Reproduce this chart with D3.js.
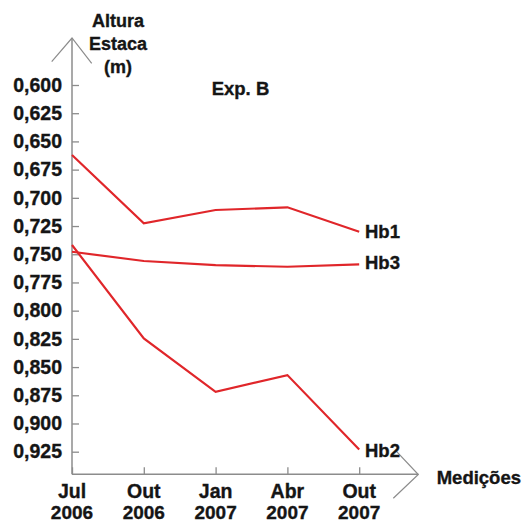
<!DOCTYPE html>
<html>
<head>
<meta charset="utf-8">
<script src="https://cdn.jsdelivr.net/npm/d3@7"></script>
<style>
  html, body { margin: 0; padding: 0; background: #fff; }
  svg { display: block; }
  text { font-family: "Liberation Sans", Arial, Helvetica, sans-serif; font-weight: bold; fill: #151515; stroke: #151515; stroke-width: 0.35px; }
</style>
</head>
<body>
<svg id="chart" width="523" height="523"></svg>
<script>
const categories = ["Jul|2006", "Out|2006", "Jan|2007", "Abr|2007", "Out|2007"];
const yTicks = [0.600, 0.625, 0.650, 0.675, 0.700, 0.725, 0.750, 0.775, 0.800, 0.825, 0.850, 0.875, 0.900, 0.925];
const hb1 = [0.662, 0.7226, 0.7108, 0.7084, 0.730];
const hb2 = [0.7418, 0.8246, 0.8719, 0.8571, 0.923];
const hb3 = [0.7478, 0.7560, 0.7596, 0.7611, 0.7590];
const seriesNames = ["Hb1", "Hb2", "Hb3"];
const yTitle = ["Altura", "Estaca", "(m)"];
const xTitle = "Medições";
const chartTitle = "Exp. B";

const svg = d3.select("#chart");
const axisColor = "#8c8c8c";
const lineColor = "#e0262a";

const x = d3.scalePoint().domain(categories).range([72, 359.2]);
const y = d3.scaleLinear().domain([0.600, 0.925]).range([85, 451.7]);
const axisY = 474.3;
const fmt = v => d3.format(".3f")(v).replace(".", ",");

// Y axis
const yAxis = d3.axisRight(y).tickValues(yTicks).tickSize(7).tickFormat("");
const gy = svg.append("g").attr("transform", "translate(72,0)").call(yAxis);
gy.select(".domain").remove();
gy.selectAll(".tick line").attr("stroke", axisColor).attr("stroke-width", 1.3);
svg.append("line").attr("x1", 72).attr("x2", 72).attr("y1", 38).attr("y2", axisY)
  .attr("stroke", axisColor).attr("stroke-width", 1.5);
svg.append("polyline").attr("points", "51.7,61.7 72,38 91.7,63.3")
  .attr("fill", "none").attr("stroke", axisColor).attr("stroke-width", 1.2);
svg.selectAll(".ylab").data(yTicks).enter().append("text")
  .attr("class", "ylab")
  .attr("x", 62).attr("y", d => y(d) + 6.7)
  .attr("text-anchor", "end").attr("font-size", 19.5)
  .text(fmt);

// X axis
const xAxis = d3.axisTop(x).tickSize(7).tickFormat("");
const gx = svg.append("g").attr("transform", `translate(0,${axisY})`).call(xAxis);
gx.select(".domain").remove();
gx.selectAll(".tick line").attr("stroke", axisColor).attr("stroke-width", 1.3);
svg.append("line").attr("x1", 72).attr("x2", 418.3).attr("y1", axisY).attr("y2", axisY)
  .attr("stroke", axisColor).attr("stroke-width", 1.5);
svg.append("polyline").attr("points", "396.7,451.7 418.3,474.5 393.3,498.3")
  .attr("fill", "none").attr("stroke", axisColor).attr("stroke-width", 1.2);
categories.forEach(c => {
  const parts = c.split("|");
  svg.append("text").attr("x", x(c)).attr("y", 497.5).attr("text-anchor", "middle")
    .attr("font-size", 19.5).text(parts[0]);
  svg.append("text").attr("x", x(c)).attr("y", 518.5).attr("text-anchor", "middle")
    .attr("font-size", 19).text(parts[1]);
});

// titles
svg.selectAll(".ytitle").data(yTitle).enter().append("text")
  .attr("x", 118).attr("y", (d, i) => 27 + i * 23)
  .attr("text-anchor", "middle").attr("font-size", 18).text(d => d);
svg.append("text").attr("x", 436.7).attr("y", 484).attr("font-size", 18.5).text(xTitle);
svg.append("text").attr("x", 211.7).attr("y", 95).attr("font-size", 18.5).text(chartTitle);

// lines
const line = d3.line().x((d, i) => x(categories[i])).y(d => y(d));
[hb1, hb2, hb3].forEach(s => {
  svg.append("path").datum(s).attr("d", line)
    .attr("fill", "none").attr("stroke", lineColor).attr("stroke-width", 2.2)
    .attr("stroke-linejoin", "miter");
});

// series labels
svg.append("text").attr("x", 365).attr("y", 238.3).attr("font-size", 18.5).text(seriesNames[0]);
svg.append("text").attr("x", 365).attr("y", 269.3).attr("font-size", 18.5).text(seriesNames[2]);
svg.append("text").attr("x", 365).attr("y", 456.7).attr("font-size", 18.5).text(seriesNames[1]);
</script>
</body>
</html>
